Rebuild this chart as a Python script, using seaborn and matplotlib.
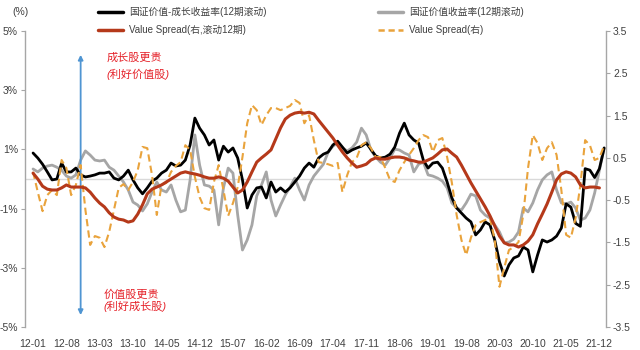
import numpy as np
import pandas as pd
import matplotlib
matplotlib.use("Agg")
import matplotlib.pyplot as plt
import seaborn as sns

# ---------------- data ----------------
tick_labels = ["12-01", "12-08", "13-03", "13-10", "14-05", "14-12", "15-07", "16-02",
               "16-09", "17-04", "17-11", "18-06", "19-01", "19-08", "20-03", "20-10",
               "21-05", "21-12"]

value_growth = [0.88, 0.71, 0.5, 0.24, -0.03, 0, 0.54, 0.24, 0.24, 0.37,
                0.14, 0.07, 0.1, 0.14, 0.2, 0.2, 0.24, 0.03, -0.03, 0.1,
                0.3, -0.03, -0.3, -0.5,
                -0.3, -0.07, 0.03, 0.2, 0.3, 0.54, 0.44, 0.47, 0.64, 1.15,
                2.06, 1.72, 1.49, 1.15, 1.32, 0.64, 1.11, 0.91, 1.05, 0.71,
                -0.03, -0.98, -0.54, -0.3,
                -0.27, -0.64, -0.1, -0.44, -0.3, -0.44, -0.3, -0.1, 0.1, 0.37,
                0.54, 0.4, 0.71, 0.84, 0.91, 1.15, 1.28, 1.08, 0.88, 0.98,
                1.05, 1.11, 1.22, 1.0,
                0.78, 0.71, 0.74, 0.84, 1.08, 1.55, 1.89, 1.49, 1.32, 1.22,
                0.64, 0.37, 0.54, 0.57, 0.37, -0.1, -0.64, -0.98, -1.15, -1.32,
                -1.45, -1.89, -1.72, -1.45,
                -1.55, -2.06, -2.8, -3.28, -2.9, -2.67, -2.6, -2.3, -2.4, -3.14,
                -2.57, -2.06, -2.13, -2.06, -1.93, -1.66, -0.84, -0.95, -1.5, -1.6,
                0.35, 0.3, 0.05, 0.35, 1.05]

value_ret = [0.34, 0.24, 0.37, 0.44, 0.47, 0.4, 0.3, 0.1, 0.03, 0.14,
             0.64, 0.95, 0.81, 0.64, 0.61, 0.64, 0.4, 0.3, 0.1, -0.1,
             -0.37, -0.78, -0.88, -1.08,
             -0.84, -0.44, -0.1, -0.37, -0.44, -0.2, -0.71, -1.11, -1.05, -0.03,
             1.49, 0.47, -0.2, -0.24, -0.37, -1.55, -0.3, 0.37, 0.2, -1.22,
             -2.4, -2.06, -1.55, -0.57,
             -0.2, 0.24, -0.71, -1.25, -0.88, -0.54, -0.27, 0.03, -0.37, -0.71,
             -0.2, 0.1, 0.3, 0.5, 0.91, 1.11, 1.22, 1.05, 0.95, 1.05,
             1.25, 1.72, 1.49, 0.98,
             0.74, 0.57, 0.47, 0.71, 1.01, 0.98, 0.88, 0.81, 0.24, 0.5,
             0.57, 0.14, 0.1, 0.03, -0.07, -0.3, -0.81, -0.98, -1.05, -0.81,
             -0.51, -0.57, -1.05, -1.22,
             -1.32, -1.55, -1.79, -2.16, -2.13, -2.03, -1.79, -0.98, -1.11, -0.81,
             -0.37, -0.03, 0.14, 0.24, -0.37, -0.81, -0.84, -0.78, -0.98, -1.39,
             -1.32, -1.05, -0.47, 0.3, 1.05]

spread_roll = [0.14, 0, -0.17, -0.24, -0.26, -0.26, -0.21, -0.14, -0.19, -0.19,
               -0.19, -0.21, -0.31, -0.45, -0.57, -0.66, -0.8, -0.9, -0.95, -0.97,
               -1.02, -0.99, -0.83, -0.61,
               -0.35, -0.24, -0.19, -0.14, -0.07, 0, 0.07, 0.14, 0.17, 0.14,
               0.12, 0.09, 0.05, 0.02, 0.02, 0.05, 0.02, -0.05, -0.19, -0.33,
               -0.26, -0.07, 0.17, 0.4,
               0.5, 0.59, 0.69, 0.95, 1.21, 1.42, 1.51, 1.56, 1.58, 1.56,
               1.58, 1.54, 1.39, 1.25, 1.11, 0.97, 0.8, 0.64, 0.5, 0.38,
               0.28, 0.31, 0.35, 0.45,
               0.5, 0.47, 0.47, 0.5, 0.52, 0.52, 0.5, 0.45, 0.43, 0.4,
               0.4, 0.45, 0.5, 0.59, 0.69, 0.71, 0.61, 0.52, 0.33, 0.12,
               -0.09, -0.28, -0.47, -0.66,
               -0.87, -1.11, -1.35, -1.51, -1.56, -1.56, -1.61, -1.56, -1.47, -1.32,
               -1.06, -0.83, -0.59, -0.31, -0.02, 0.12, 0.17, 0.14, 0.05, -0.14,
               -0.21, -0.19, -0.19, -0.21, np.nan]

spread = [0.17, -0.31, -0.76, -0.38, -0.26, -0.38, 0.45, 0.26, -0.38, -0.14,
          0.33, -0.73, -1.56, -1.35, -1.39, -1.61, -1.25, -0.73, -0.21, -0.12,
          -0.26, -0.07, 0.21, 0.76,
          0.73, 0.09, -0.85, -0.14, -0.09, 0.17, 0.31, 0.4, 0.8, 0.69,
          0.05, -0.43, -0.69, -0.73, -0.07, 0.33, -0.26, -0.87, -0.57, -0.19,
          0.52, 1.32, 1.75, 1.63,
          1.28, 1.51, 1.68, 1.68, 1.63, 1.68, 1.73, 1.87, 1.8, 1.32,
          1.51, 0.92, 0.4, 0.38, 0.35, 0.31, 0.38, -0.31, 0.09, 0.4,
          0.5, 0.8, 0.87, 0.73,
          0.52, 0.52, 0.26, -0.02, -0.07, 0.21, 0.4, 0.57, 0.73, 0.92,
          1.04, 0.99, 0.64, 0.92, 0.97, 0.52, -0.09, -0.85, -1.44, -1.8,
          -1.39, -1.09, -1.02, -0.97,
          -0.92, -1.44, -2.55, -2.1, -1.68, -1.61, -1.49, -0.85, 0.26, 1.04,
          0.85, 0.45, 0.73, 0.87, 0.57, -0.26, -1.32, -1.39, -0.92, -0.14,
          0.92, 0.8, 0.45, 0.5, 0.8]

labels = {
    "vg": "国证价值-成长收益率(12期滚动)",
    "v": "国证价值收益率(12期滚动)",
    "sr": "Value Spread(右,滚动12期)",
    "s": "Value Spread(右)",
}

n = len(value_growth)
idx = np.arange(n)
df = pd.DataFrame({"t": idx, "vg": value_growth, "v": value_ret,
                   "sr": spread_roll, "s": spread})

# ---------------- style ----------------
sns.set_theme(style="white")
plt.rcParams["font.family"] = ["Liberation Sans", "Noto Sans CJK SC", "DejaVu Sans"]

C_BLACK = "#000000"
C_GRAY = "#A6A6A6"
C_RED = "#B5391A"
C_ORANGE = "#E9A33C"
C_AXIS = "#A6A6A6"
C_TEXT = "#404040"

fig = plt.figure(figsize=(6.4, 3.5), dpi=100)
ax = fig.add_axes([0.039, 0.066, 0.908, 0.845])
ax2 = ax.twinx()

ax.axhline(0, color="#D9D9D9", lw=1.0, zorder=1)

sns.lineplot(data=df, x="t", y="v", ax=ax, color=C_GRAY, lw=2.0, zorder=2)
sns.lineplot(data=df, x="t", y="vg", ax=ax, color=C_BLACK, lw=2.0, zorder=3)
sns.lineplot(data=df, x="t", y="sr", ax=ax2, color=C_RED, lw=2.2, zorder=3)
sns.lineplot(data=df, x="t", y="s", ax=ax2, color=C_ORANGE, lw=1.5,
             linestyle=(0, (3.5, 2)), zorder=2)

ax.set_xlim(-1.7, 120.4)
ax.set_ylim(-5, 5)
ax2.set_ylim(-3.5, 3.5)

ax.set_yticks([-5, -3, -1, 1, 3, 5])
ax.set_yticklabels([f"{v}%" for v in [-5, -3, -1, 1, 3, 5]])
ax2.set_yticks([-3.5, -2.5, -1.5, -0.5, 0.5, 1.5, 2.5, 3.5])
ax2.set_yticklabels(["-3.5", "-2.5", "-1.5", "-0.5", "0.5", "1.5", "2.5", "3.5"])

ax.set_xticks(np.arange(0, n, 7)[:len(tick_labels)])
ax.set_xticklabels(tick_labels)

for a in (ax, ax2):
    a.set_xlabel("")
    a.set_ylabel("")
    for s in ("top", "bottom"):
        a.spines[s].set_visible(False)
ax.spines["right"].set_visible(False)
ax2.spines["left"].set_visible(False)
ax.spines["left"].set_color(C_AXIS)
ax2.spines["right"].set_color(C_AXIS)
ax.spines["left"].set_linewidth(1.0)
ax2.spines["right"].set_linewidth(1.0)

ax.tick_params(axis="y", which="both", left=True, length=3, width=0.8,
               color=C_AXIS, labelsize=7.5, labelcolor=C_TEXT, pad=2)
ax2.tick_params(axis="y", which="both", right=True, length=3, width=0.8,
                color=C_AXIS, labelsize=7.5, labelcolor=C_TEXT, pad=2)
ax.tick_params(axis="x", bottom=False, labelsize=7.5, labelcolor=C_TEXT, pad=3)
ax.grid(False)
ax2.grid(False)

# arrow and annotations
ax.annotate("", xy=(10, 4.2), xytext=(10, -4.6),
            arrowprops=dict(arrowstyle="<|-|>", color="#4F95D2", lw=1.3,
                            mutation_scale=7, shrinkA=0, shrinkB=0))
ax.text(15.5, 4.1, "成长股更贵", color="#E5222A", fontsize=8,
        ha="left", va="center", fontstyle="italic")
ax.text(15.5, 3.55, "(利好价值股)", color="#E5222A", fontsize=8,
        ha="left", va="center", fontstyle="italic")
ax.text(14.8, -3.9, "价值股更贵", color="#E5222A", fontsize=8,
        ha="left", va="center", fontstyle="italic")
ax.text(14.8, -4.3, "(利好成长股)", color="#E5222A", fontsize=8,
        ha="left", va="center", fontstyle="italic")

# legends
h_vg = plt.Line2D([], [], color=C_BLACK, lw=2.5)
h_v = plt.Line2D([], [], color=C_GRAY, lw=2.5)
h_sr = plt.Line2D([], [], color=C_RED, lw=2.5)
h_s = plt.Line2D([], [], color=C_ORANGE, lw=1.8, linestyle=(0, (2.5, 1.5)))

leg_kw = dict(loc="upper left", frameon=False, fontsize=7, handlelength=2.6,
              handletextpad=0.6, labelspacing=0.8, borderaxespad=0,
              borderpad=0, labelcolor=C_TEXT)
fig.legend([h_vg, h_sr], [labels["vg"], labels["sr"]],
           bbox_to_anchor=(98 / 640, 1 - 7 / 350), **leg_kw)
fig.legend([h_v, h_s], [labels["v"], labels["s"]],
           bbox_to_anchor=(378 / 640, 1 - 7 / 350), **leg_kw)

fig.text(12 / 640, 1 - 12 / 350, "(%)", fontsize=7.5, color=C_TEXT,
         ha="left", va="center")

fig.savefig("out.png", dpi=100)
